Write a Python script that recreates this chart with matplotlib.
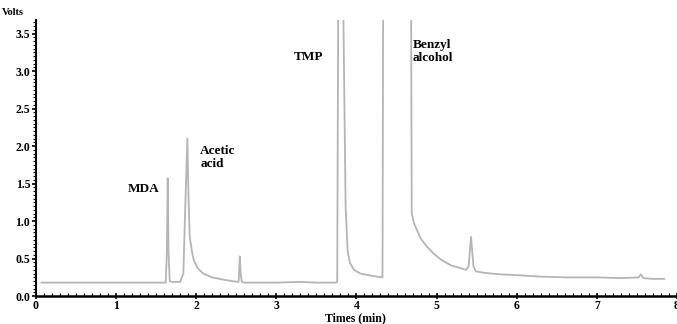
import matplotlib
matplotlib.use("Agg")
import matplotlib.pyplot as plt
from matplotlib.ticker import MultipleLocator

# Chromatogram trace (time in min, signal in volts)
time_min = [0.07, 0.5, 1.0, 1.5, 1.62, 1.635, 1.645, 1.655, 1.67, 1.70, 1.80, 1.84,
            1.87, 1.89, 1.905, 1.92, 1.95, 1.97, 2.02, 2.09, 2.20, 2.34, 2.45, 2.53,
            2.545, 2.555, 2.57, 2.60, 2.80, 3.00, 3.30, 3.50, 3.74, 3.76, 3.775,
            3.83, 3.845, 3.865, 3.89, 3.92, 3.97, 4.05, 4.15, 4.25, 4.325, 4.335,
            4.68, 4.69, 4.72, 4.80, 4.88, 4.96, 5.05, 5.18, 5.28, 5.37, 5.40, 5.43,
            5.46, 5.49, 5.60, 5.80, 6.00, 6.30, 6.63, 7.00, 7.30, 7.52, 7.55, 7.58,
            7.70, 7.84]
volts = [0.18, 0.18, 0.18, 0.18, 0.18, 0.60, 1.57, 0.60, 0.20, 0.19, 0.19, 0.30,
         1.40, 2.10, 1.30, 0.79, 0.58, 0.48, 0.37, 0.30, 0.25, 0.22, 0.20, 0.19,
         0.53, 0.30, 0.19, 0.18, 0.18, 0.18, 0.19, 0.18, 0.18, 0.19, 4.50,
         4.50, 3.00, 1.20, 0.60, 0.44, 0.35, 0.30, 0.28, 0.26, 0.25, 4.50,
         4.50, 1.10, 0.97, 0.77, 0.66, 0.57, 0.49, 0.41, 0.38, 0.35, 0.40, 0.79,
         0.40, 0.33, 0.31, 0.29, 0.28, 0.26, 0.25, 0.25, 0.24, 0.25, 0.29, 0.24,
         0.23, 0.23]

peak_names = ["MDA", "Acetic\nacid", "TMP", "Benzyl\nalcohol"]
label_x = [1.15, 2.05, 3.22, 4.7]
label_y = [1.43, 1.85, 3.19, 3.26]

x_ticks = [0, 1, 2, 3, 4, 5, 6, 7, 8]
y_ticks = [0.0, 0.5, 1.0, 1.5, 2.0, 2.5, 3.0, 3.5]

plt.rcParams['font.family'] = ['Liberation Serif', 'DejaVu Serif']

fig = plt.figure(figsize=(6.77, 3.24), dpi=100)
ax = fig.add_axes([0.053, 0.086, 0.947, 0.852])
ax.plot(time_min, volts, color="#b5b5b5", lw=1.3, clip_on=True)

ax.set_xlim(0, 8)
ax.set_ylim(0, 3.68)
ax.set_xticks(x_ticks)
ax.set_yticks(y_ticks)
ax.set_yticklabels([f"{v:.1f}" for v in y_ticks])
ax.xaxis.set_minor_locator(MultipleLocator(0.1))
ax.yaxis.set_minor_locator(MultipleLocator(0.05))
for lab in ax.get_xticklabels() + ax.get_yticklabels():
    lab.set_fontweight("bold")
    lab.set_fontsize(8.5)
ax.tick_params(axis="x", which="major", direction="inout", length=5, width=1.2, pad=0)
ax.tick_params(axis="x", which="minor", direction="in", length=2.5, width=0.8)
ax.tick_params(axis="y", which="major", direction="out", length=3, width=1.2, pad=1)
ax.tick_params(axis="y", which="minor", direction="out", length=2, width=0.8)

for s in ["top", "right"]:
    ax.spines[s].set_visible(False)
ax.spines["left"].set_linewidth(1.5)
ax.spines["bottom"].set_linewidth(1.8)

for name, lx, ly in zip(peak_names, label_x, label_y):
    ax.text(lx, ly, name, fontsize=9.5, fontweight="bold", ha="left", va="center",
            linespacing=1.1)

fig.text(0.003, 0.962, "Volts", fontsize=7.5, fontweight="bold", ha="left", va="center")
fig.text(0.525, 0.0, "Times (min)", fontsize=8.5, fontweight="bold", ha="center", va="bottom")

fig.savefig("out.png", dpi=100)
